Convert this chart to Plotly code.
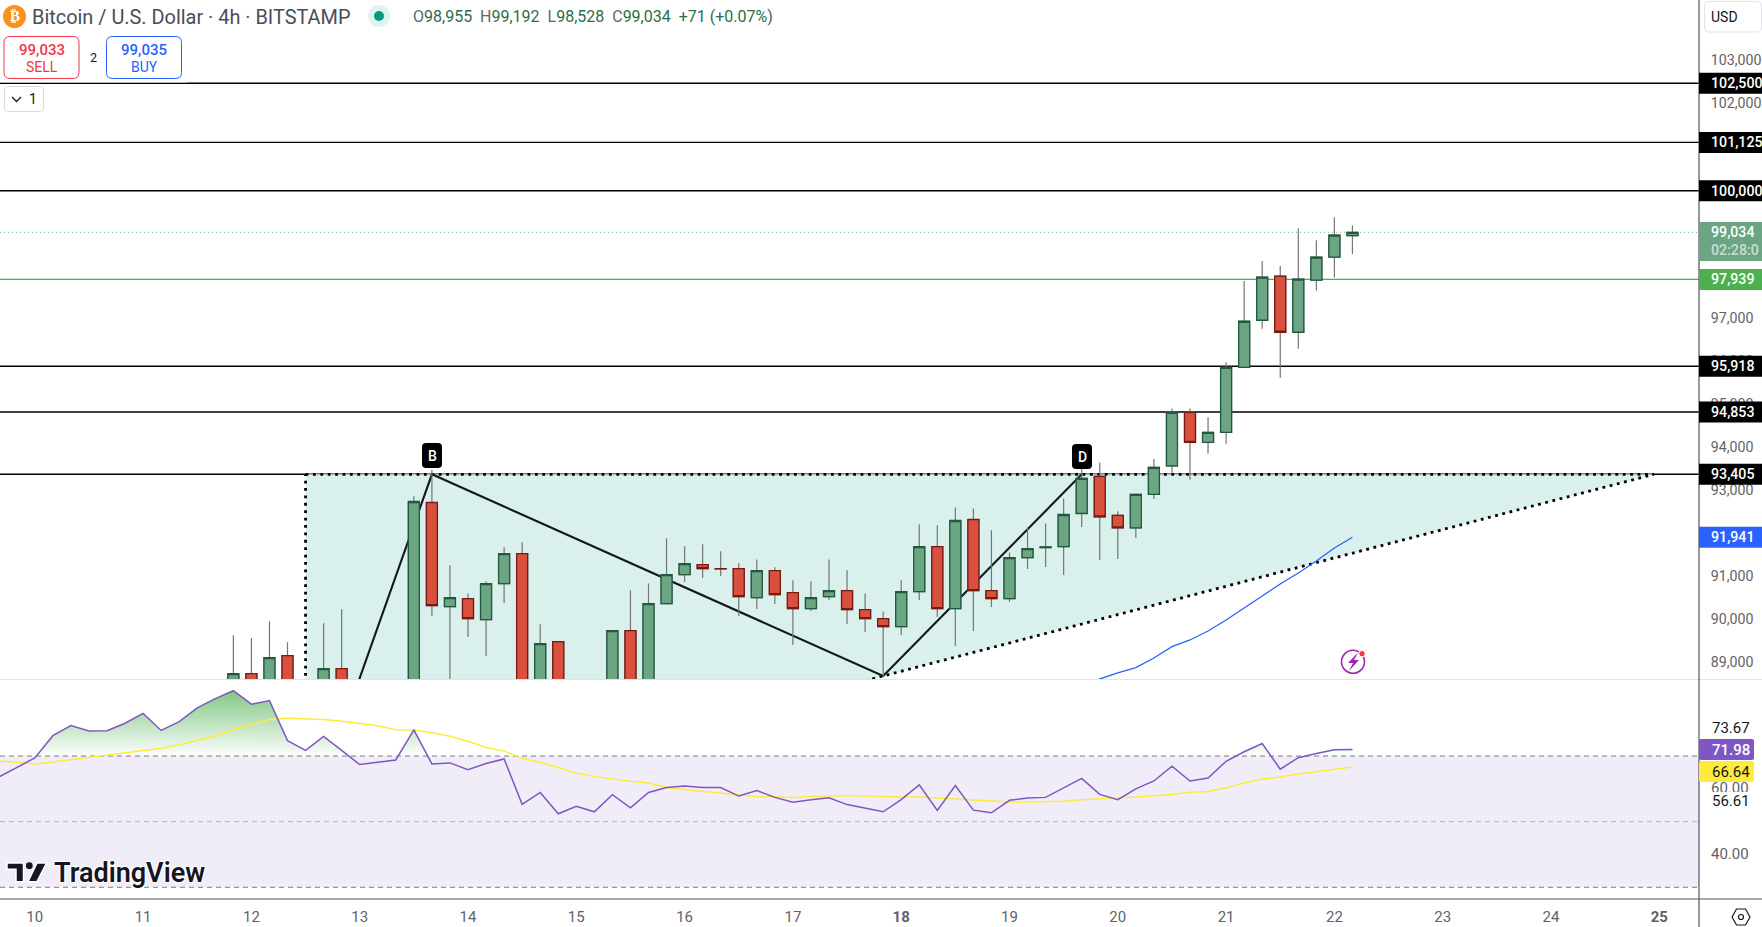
import plotly.graph_objects as go

W, H = 1762, 927
AXIS_X, MAIN_BOTTOM, RSI_TOP, RSI_BOTTOM = 1699, 679, 680, 899

# ---------- data ----------
bars = list(range(11, 74))
opens = [88300,88767,88430,89186,88430,88030,88883,88030,87900,88000,88200,92749,90327,90514,90024,90863,91561,88350,89512,88300,88400,88230,89768,88430,90397,91072,91305,91212,91212,90537,91166,90653,90281,90560,90700,90257,90048,89861,90676,91724,90281,92353,90700,90514,91468,91700,91724,92493,93355,92447,92158,92936,93602,94845,94147,94380,95893,96988,98013,96709,97920,98456,98955]
highs = [89660,89590,89985,89496,88560,89938,90264,88400,88300,88500,92896,93502,91289,90630,90916,91708,91825,89915,89512,88500,88550,89768,90707,90863,91918,91732,91778,91615,91336,91422,91243,90940,90916,91422,91173,90630,90211,90940,92244,92221,92633,92610,92104,91585,92167,92260,92842,94044,93681,92547,92959,93758,94938,94938,94729,96010,97904,98369,98253,99131,98851,99387,99192]
lows = [88200,88200,88300,88300,88100,87900,87800,87700,87600,87800,88100,90108,88500,89619,89177,90411,88300,88200,88200,88100,88150,88100,88200,88300,90397,90900,90993,91040,90108,90271,90388,89433,90225,90481,89922,89736,88704,89666,90481,90085,89410,89760,90318,90434,91203,91250,91063,92181,91406,91436,91925,92833,93439,93285,93881,94114,95893,96793,95651,96327,97678,97980,98528]
closes = [88767,88300,89140,88430,88250,88883,88030,87900,88000,88200,92772,90350,90537,90048,90863,91561,88430,89465,88300,88400,88250,89768,88330,90397,91072,91329,91212,91206,90560,91166,90607,90281,90537,90700,90257,90048,89861,90676,91724,90281,92330,90700,90514,91468,91678,91715,92470,93308,92414,92158,92936,93564,94845,94147,94380,95893,96965,97990,96709,97943,98456,98967,99034]

ma_bars = list(range(58, 74))
ma_blue = [88388,88644,88783,88907,89132,89395,89551,89760,90016,90295,90574,90854,91110,91389,91691,91941]

rsi_bars = list(range(-2, 74))
rsi = [63.6,66.6,69.4,76.2,79.3,77.6,77.7,80.0,83.0,77.8,80.5,84.7,87.5,89.9,85.8,86.9,74.7,71.7,76.0,71.7,67.4,68.1,68.8,78.0,67.6,67.9,65.8,67.7,69.1,55.3,58.9,52.4,54.7,53.0,58.2,54.2,58.9,60.4,60.9,60.4,60.4,57.8,59.5,57.4,55.9,56.7,57.3,55.2,54.0,53.0,56.7,61.2,53.4,61.0,53.5,52.7,56.5,57.2,57.4,60.2,63.2,58.3,56.7,60.0,62.4,66.9,62.4,63.3,68.4,71.3,73.8,66.0,69.5,70.8,71.9,71.98]
rsi_ma = [68.5,68.0,67.6,68.2,68.9,69.5,70.2,71.0,71.7,72.4,73.4,74.7,76.2,78.0,79.5,81.1,81.5,81.3,81.1,80.6,80.0,79.2,78.0,77.9,77.1,76.0,74.5,72.6,71.5,69.3,68.1,66.5,64.8,63.8,63.0,62.3,61.8,60.4,59.8,59.3,58.8,58.1,57.6,57.6,57.4,57.7,57.9,58.0,57.8,57.6,57.5,57.5,57.2,57.0,56.7,56.3,56.0,56.0,56.1,56.2,56.7,56.9,57.2,57.5,57.9,58.3,59.0,59.2,60.3,61.8,63.0,63.6,64.5,65.2,65.8,66.64]

black_levels = [102500, 101125, 100000, 95918, 94853, 93405]
support_level = 97939
last_price = 99034
ma_last = 91941

pattern_x = [15, 89.7, 15, 15]
pattern_y = [93405, 93405, 85196, 93405]
zigzag_x = [17, 22, 47, 58]
zigzag_y = [87480, 93405, 88713, 93405]

day_ticks = list(range(0, 91, 6))
day_labels = ["10","11","12","13","14","15","16","17","<b>18</b>","19","20","21","22","23","24","<b>25</b>"]
price_ticks = list(range(89000, 104000, 1000))

RSI_UP, RSI_MID, RSI_LOW = 70, 50, 30
X_RANGE = [-1.928, 92.2]
PRICE_RANGE = [88643, 104438]
RSI_RANGE = [26.43, 93.17]

# ---------- colours ----------
G_FILL, G_EDGE = "#6ba583", "#1f5a3c"
R_FILL, R_EDGE = "#d9503f", "#741a12"
WICK = "#757575"
TEAL = "rgb(218,240,236)"
INK = "#131722"
FONT = "Roboto"
GREY = "#5f626b"
TAG_SIZE = 14.2


def fx(x):
    return x / W


def fy(y):
    return 1 - y / H


def rounded(x0, y0, x1, y1, r):
    pts = [f"M{fx(x0+r)},{fy(y0)}", f"L{fx(x1-r)},{fy(y0)}", f"Q{fx(x1)},{fy(y0)} {fx(x1)},{fy(y0+r)}",
           f"L{fx(x1)},{fy(y1-r)}", f"Q{fx(x1)},{fy(y1)} {fx(x1-r)},{fy(y1)}", f"L{fx(x0+r)},{fy(y1)}",
           f"Q{fx(x0)},{fy(y1)} {fx(x0)},{fy(y1-r)}", f"L{fx(x0)},{fy(y0+r)}", f"Q{fx(x0)},{fy(y0)} {fx(x0+r)},{fy(y0)}", "Z"]
    return "".join(pts)


def poly(points):
    return "M" + "L".join(f"{fx(a)},{fy(b)}" for a, b in points) + "Z"


def data_path(xs, ys):
    return "M" + "L".join(f"{a},{b}" for a, b in zip(xs, ys))


shapes, annos = [], []


def box(x0, y0, x1, y1, r=0, fill="rgba(0,0,0,0)", line=None, lw=1):
    shapes.append(dict(type="path", path=rounded(x0, y0, x1, y1, r) if r else poly([(x0, y0), (x1, y0), (x1, y1), (x0, y1)]),
                       xref="paper", yref="paper", fillcolor=fill,
                       line=dict(color=line or "rgba(0,0,0,0)", width=lw), layer="above"))


def circle(cx, cy, r, fill="rgba(0,0,0,0)", line=None, lw=1):
    shapes.append(dict(type="circle", xref="paper", yref="paper", x0=fx(cx-r), x1=fx(cx+r), y0=fy(cy-r), y1=fy(cy+r),
                       fillcolor=fill, line=dict(color=line or "rgba(0,0,0,0)", width=lw), layer="above"))


def line(x0, y0, x1, y1, color, lw=1):
    shapes.append(dict(type="line", xref="paper", yref="paper", x0=fx(x0), x1=fx(x1), y0=fy(y0), y1=fy(y1),
                       line=dict(color=color, width=lw), layer="above"))


def label(text, x, y, size=15, color=GREY, anchor="left", weight=None, family=FONT, **kw):
    annos.append(dict(text=text, x=fx(x), y=fy(y), xref="paper", yref="paper", xanchor=anchor, yanchor="middle",
                      showarrow=False, font=dict(size=size, color=color, family=family, weight=weight), **kw))


def level(price, color, width, dash=None):
    shapes.append(dict(type="line", xref="x domain", yref="y", x0=0, x1=1, y0=price, y1=price,
                       line=dict(color=color, width=width, dash=dash or "solid"), layer="below"))


fig = go.Figure()
MAIN = dict(xaxis="x", yaxis="y", hoverinfo="skip", showlegend=False)
SUB = dict(xaxis="x", yaxis="y2", hoverinfo="skip", showlegend=False)

# everything that must lie behind the candles goes in as below-layer shapes on the data axes
shapes.append(dict(type="path", xref="x", yref="y", path=data_path(pattern_x, pattern_y) + "Z", fillcolor=TEAL,
                   line=dict(width=0), layer="below"))
for lv in black_levels:
    level(lv, "#000000", 1.4)
level(support_level, "#4caf50", 1.1)
level(last_price, G_FILL, 1.1, "1px,3px")
shapes.append(dict(type="path", xref="x", yref="y", path=data_path(pattern_x, pattern_y),
                   line=dict(color="#000000", width=2.8, dash="2.8px,4.6px"), layer="below"))
shapes.append(dict(type="path", xref="x", yref="y", path=data_path(zigzag_x, zigzag_y),
                   line=dict(color=INK, width=2.1), layer="below"))

fig.add_trace(go.Scatter(x=ma_bars, y=ma_blue, mode="lines", line=dict(color="#2962ff", width=1.3), **MAIN))

# wicks, then bodies
fig.add_trace(go.Candlestick(x=bars, open=opens, high=highs, low=lows, close=closes,
                             increasing=dict(line=dict(color=WICK, width=1.2), fillcolor=WICK),
                             decreasing=dict(line=dict(color=WICK, width=1.2), fillcolor=WICK),
                             whiskerwidth=0, **MAIN))
fig.add_trace(go.Candlestick(x=bars, open=opens, close=closes,
                             high=[max(a, b) for a, b in zip(opens, closes)],
                             low=[min(a, b) for a, b in zip(opens, closes)],
                             increasing=dict(line=dict(color=G_EDGE, width=1.3), fillcolor=G_FILL),
                             decreasing=dict(line=dict(color=R_EDGE, width=1.3), fillcolor=R_FILL),
                             whiskerwidth=0, **MAIN))

# RSI: overbought fill between the band and the line
fx_pts, fy_pts = [], []
for i, (k, v) in enumerate(zip(rsi_bars, rsi)):
    if i:
        p = rsi[i-1]
        if (p - RSI_UP) * (v - RSI_UP) < 0:
            fx_pts.append(k - 1 + (RSI_UP - p) / (v - p))
            fy_pts.append(RSI_UP)
    fx_pts.append(k)
    fy_pts.append(max(v, RSI_UP))
fig.add_trace(go.Scatter(x=fx_pts, y=[RSI_UP]*len(fx_pts), mode="lines", line=dict(width=0), **SUB))
fig.add_trace(go.Scatter(x=fx_pts, y=fy_pts, mode="lines", line=dict(width=0), fill="tonexty",
                         fillgradient=dict(type="vertical", start=RSI_UP, stop=max(rsi),
                                           colorscale=[[0, "rgba(76,175,80,0.02)"], [1, "rgba(76,175,80,0.7)"]]), **SUB))
for lv, col in [(RSI_UP, "#787b86"), (RSI_MID, "#b5b3bd"), (RSI_LOW, "#787b86")]:
    fig.add_trace(go.Scatter(x=X_RANGE, y=[lv, lv], mode="lines", line=dict(color=col, width=1, dash="5px,4px"), **SUB))
fig.add_trace(go.Scatter(x=rsi_bars, y=rsi_ma, mode="lines", line=dict(color="#ffeb3b", width=1.5), **SUB))
fig.add_trace(go.Scatter(x=rsi_bars, y=rsi, mode="lines", line=dict(color="#7e57c2", width=1.5), **SUB))

# band
shapes.append(dict(type="rect", xref="x domain", yref="y2", x0=0, x1=1, y0=RSI_LOW, y1=RSI_UP,
                   fillcolor="rgb(240,236,248)", line=dict(width=0), layer="below"))

# pane frames
line(0, 679.5, W, 679.5, "#e0e3eb", 1.2)
line(AXIS_X, 0, AXIS_X, H, "#50535e", 1.2)
line(0, 899, W, 899, "#50535e", 1.2)


def py(p):
    return (PRICE_RANGE[1] - p) / (PRICE_RANGE[1] - PRICE_RANGE[0]) * MAIN_BOTTOM


def tag(text, fill, y):
    shapes.append(dict(type="path", xref="paper", yref="paper",
                       path=poly([(AXIS_X, y-10.5), (W, y-10.5), (W, y+10.5), (AXIS_X, y+10.5)]),
                       fillcolor=fill, line=dict(width=0), layer="above"))
    label(text, 1709, y, TAG_SIZE, "#ffffff", weight=500)


for lv in black_levels:
    tag(f"{lv:,}", "#000000", py(lv))
tag(f"{support_level:,}", "#4caf50", py(support_level))
tag(f"{ma_last:,}", "#2962ff", py(ma_last))
box(AXIS_X, 222, W, 261, 0, G_FILL)
label(f"{last_price:,}", 1709, 232, TAG_SIZE, "#ffffff", weight=500)
label("02:28:0", 1709, 250, TAG_SIZE, "rgba(255,255,255,0.65)", weight=500)

# RSI tags
label("73.67", 1710, 728, 15, INK)
box(AXIS_X, 739, 1754, 760, 2, "#7e57c2")
label("71.98", 1710, 749.7, 15, "#ffffff", weight=500)
box(AXIS_X, 761, 1754, 782, 2, "#ffeb3b")
label("66.64", 1710, 771.7, 15, INK)
box(1705, 792, 1754, 811, 0, "#ffffff")
label("56.61", 1710, 801, 15, INK)

# pattern letters
box(422, 443, 442, 468, 4, "#000000")
label("B", 432, 455.5, 14, "#ffffff", "center", 500)
box(1072, 444, 1092, 469, 4, "#000000")
label("D", 1082, 456.5, 14, "#ffffff", "center", 500)

# header
box(0, 0, 187, 82.5, 0, "rgba(255,255,255,0.8)")
circle(14.5, 16.5, 11.5, "#f7931a")
label("₿", 14.5, 16.5, 15, "#ffffff", "center", 700, "DejaVu Sans")
label("Bitcoin / U.S. Dollar · 4h · BITSTAMP", 30, 17.5, 19.9, "#4a4d57")
circle(379, 16, 11, "#dff3ef")
circle(379, 16, 5, "#089981")
G = "#2f6b47"
ohlc = "".join(f"<span style='color:#5a6b60'>{a}</span>{b}&nbsp;&nbsp;" for a, b in
               [("O", "98,955"), ("H", "99,192"), ("L", "98,528"), ("C", "99,034")]) + "+71 (+0.07%)"
label(ohlc, 411, 17, 16, G)
box(4, 36.5, 79, 78.5, 6, "#ffffff", "#f23645", 1)
label("99,033", 41.5, 50, 15, "#f23645", "center", 500)
label("SELL", 41.5, 67, 14, "#f23645", "center")
label("2", 93, 57, 12.5, INK, "center")
box(106.5, 36.5, 181.5, 78.5, 6, "#ffffff", "#2962ff", 1)
label("99,035", 144, 50, 15, "#2962ff", "center", 500)
label("BUY", 144, 67, 14, "#2962ff", "center")
box(4.5, 86.5, 43.5, 111.5, 3, "#ffffff", "#d9dbe3", 1)
shapes.append(dict(type="path", xref="paper", yref="paper", path=f"M{fx(12)},{fy(97)}L{fx(16.5)},{fy(101.5)}L{fx(21)},{fy(97)}",
                   line=dict(color=INK, width=1.3), layer="above"))
label("1", 33, 99, 14, INK, "center")

# USD
box(1704.5, 1.5, 1761.5, 32, 4, "#ffffff", "#e0e3eb", 1)
label("USD", 1709, 17.5, 14, INK)

# settings hexagon
shapes.append(dict(type="path", xref="paper", yref="paper",
                   path=poly([(1732, 917), (1736.5, 909), (1745.5, 909), (1750, 917), (1745.5, 925), (1736.5, 925)]),
                   line=dict(color=INK, width=1.2), layer="above"))
circle(1741, 917, 2.5, line=INK, lw=1.2)

# lightning badge
circle(1353, 661.7, 11.5, line="#9c27b0", lw=1.6)
shapes.append(dict(type="path", xref="paper", yref="paper",
                   path=poly([(1358, 652.5), (1348, 663), (1353, 663), (1349, 671), (1359, 660), (1354, 660)]),
                   fillcolor="#9c27b0", line=dict(width=0), layer="above"))
circle(1362, 653.7, 3.2, "#f23645", "#ffffff", 1)

# TradingView logo
LOGO = [[(7, 863), (23.5, 863), (23.5, 881.7), (16, 881.7), (16, 869.3), (7, 869.3)],
        [(37, 863), (46.5, 863), (37, 881.7), (28, 881.7)]]
for pts in LOGO:
    shapes.append(dict(type="path", xref="paper", yref="paper", path=poly(pts), fillcolor=INK,
                       line=dict(color="#ffffff", width=1.5), layer="above"))
circle(29.3, 865.7, 3.4, INK)
annos.append(dict(text="TradingView", x=fx(52), y=fy(873), xref="paper", yref="paper", xanchor="left", yanchor="middle",
                  showarrow=False, font=dict(size=27, color=INK, family=FONT, weight=600,
                                             shadow="1px 1px 0 #fff,-1px -1px 0 #fff,1px -1px 0 #fff,-1px 1px 0 #fff")))

fig.update_layout(
    width=W, height=H, margin=dict(l=0, r=0, t=0, b=0), paper_bgcolor="#ffffff", plot_bgcolor="#ffffff",
    showlegend=False, dragmode=False, hovermode=False, shapes=shapes, annotations=annos,
    boxgap=0.39, boxgroupgap=0,
    font=dict(family=FONT, size=15, color=GREY),
    xaxis=dict(domain=[0, AXIS_X / W], range=X_RANGE, anchor="y2", tickmode="array", tickvals=day_ticks, ticktext=day_labels,
               showgrid=False, zeroline=False, showline=False, ticks="outside", ticklen=4, tickcolor="rgba(0,0,0,0)",
               tickfont=dict(family=FONT, size=15, color=GREY), rangeslider=dict(visible=False), fixedrange=True),
    yaxis=dict(domain=[1 - MAIN_BOTTOM / H, 1], range=PRICE_RANGE, side="right", anchor="x", tickmode="array", tickvals=price_ticks,
               ticktext=[f"{t:,}" for t in price_ticks], showgrid=False, zeroline=False, showline=False, ticks="outside",
               ticklen=8, tickcolor="rgba(0,0,0,0)", tickfont=dict(family=FONT, size=TAG_SIZE, color=GREY), fixedrange=True,
               ticklabelshift=-2),
    yaxis2=dict(domain=[1 - RSI_BOTTOM / H, 1 - RSI_TOP / H], range=RSI_RANGE, side="right", anchor="x", tickmode="array", tickvals=[60, 40],
                ticktext=["60.00", "40.00"], showgrid=False, zeroline=False, showline=False, ticks="outside",
                ticklen=8, tickcolor="rgba(0,0,0,0)", tickfont=dict(family=FONT, size=15, color=GREY), fixedrange=True,
                ticklabelshift=-1),
)

fig.write_html("out.html", config={"displayModeBar": False},
               post_script="document.body.style.margin='0';document.documentElement.style.overflow='hidden';")
